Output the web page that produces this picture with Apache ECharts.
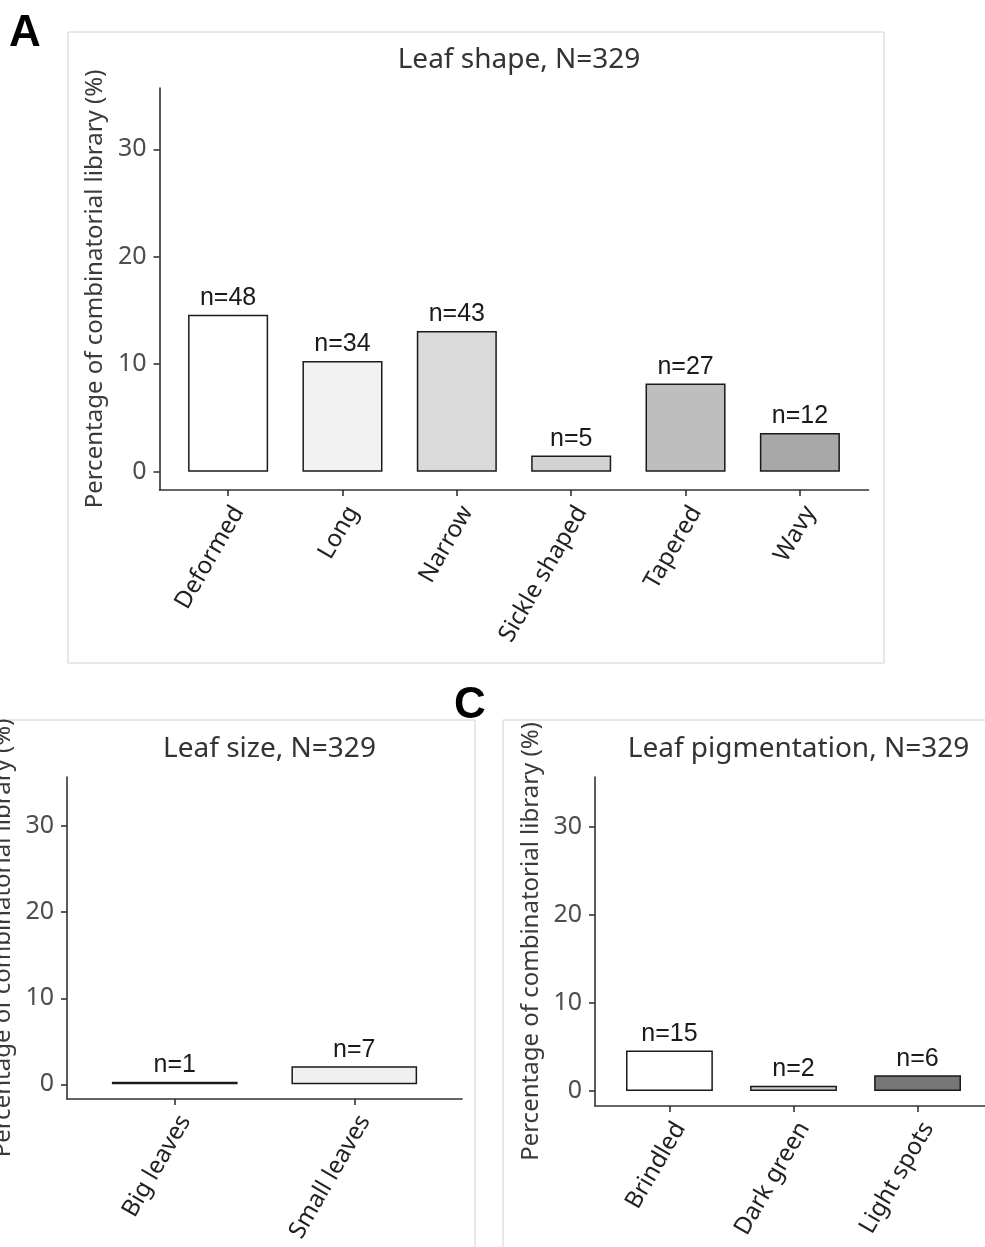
<!DOCTYPE html>
<html>
<head>
<meta charset="utf-8">
<script src="https://cdn.jsdelivr.net/npm/echarts@6/dist/echarts.min.js"></script>
<style>
html,body{margin:0;padding:0;background:#fff;}
#chart{width:985px;height:1247px;}
</style>
</head>
<body>
<div id="chart"></div>
<script>
// ---- data ----
const shapeCategories = ['Deformed', 'Long', 'Narrow', 'Sickle shaped', 'Tapered', 'Wavy'];
const shapeValues = [14.6, 10.3, 13.1, 1.5, 8.2, 3.6];
const shapeCounts = ['n=48', 'n=34', 'n=43', 'n=5', 'n=27', 'n=12'];

const sizeCategories = ['Big leaves', 'Small leaves'];
const sizeValues = [0.3, 2.1];
const sizeCounts = ['n=1', 'n=7'];

const pigCategories = ['Brindled', 'Dark green', 'Light spots'];
const pigValues = [4.6, 0.6, 1.8];
const pigCounts = ['n=15', 'n=2', 'n=6'];

const yTickValues = [0, 10, 20, 30];
const panelTitles = ['Leaf shape, N=329', 'Leaf size, N=329', 'Leaf pigmentation, N=329'];
const yAxisTitle = 'Percentage of combinatorial library (%)';

// ---- styles ----
const shapeColors = ['#ffffff', '#f2f2f2', '#dadada', '#d3d3d3', '#bebebe', '#a8a8a8'];
const sizeColors = ['#ffffff', '#f0f0f0'];
const pigColors = ['#ffffff', '#cccccc', '#777777'];

const panels = [
  {cats: shapeCategories, vals: shapeValues, counts: shapeCounts, colors: shapeColors,
   grid: {left: 159.5, top: 88, width: 709, height: 402}, title: panelTitles[0], titleTop: 41},
  {cats: sizeCategories, vals: sizeValues, counts: sizeCounts, colors: sizeColors,
   grid: {left: 67, top: 777, width: 395, height: 322}, title: panelTitles[1], titleTop: 730},
  {cats: pigCategories, vals: pigValues, counts: pigCounts, colors: pigColors,
   grid: {left: 595, top: 777, width: 397, height: 329}, title: panelTitles[2], titleTop: 730}
];

const FONT = '"Noto Sans", "DejaVu Sans", sans-serif';
const grids = [], xAxes = [], yAxes = [], series = [], titles = [];

panels.forEach((p, i) => {
  const n = p.cats.length;
  grids.push(Object.assign({containLabel: false, outerBoundsMode: 'none'}, p.grid));
  titles.push({
    text: p.title,
    left: p.grid.left + p.grid.width / 2,
    top: p.titleTop,
    textAlign: 'center',
    textStyle: {fontFamily: FONT, fontSize: 28, fontWeight: 'normal', color: '#333'}
  });
  const xTicks = p.cats.map((c, k) => k + 1);
  xAxes.push({
    type: 'value', gridIndex: i, min: 0.4, max: n + 0.6,
    splitLine: {show: false},
    axisLine: {onZero: false, lineStyle: {color: '#333', width: 1.6}},
    axisTick: {show: true, length: 6, customValues: xTicks, lineStyle: {color: '#333', width: 1.6}},
    axisLabel: {
      customValues: xTicks, rotate: 60, margin: 12, verticalAlign: 'top',
      fontFamily: FONT, fontSize: 24, color: '#222',
      formatter: v => p.cats[Math.round(v) - 1] || ''
    }
  });
  yAxes.push({
    type: 'value', gridIndex: i, min: -1.7, max: 35.7,
    splitLine: {show: false},
    name: yAxisTitle, nameLocation: 'middle', nameGap: 52,
    nameTextStyle: {fontFamily: FONT, fontSize: 24, color: '#3a3a3a'},
    axisLine: {show: true, onZero: false, lineStyle: {color: '#333', width: 1.6}},
    axisTick: {show: true, length: 6, customValues: yTickValues, lineStyle: {color: '#333', width: 1.6}},
    axisLabel: {customValues: yTickValues, margin: 13, fontFamily: FONT, fontSize: 25, color: '#4d4d4d'}
  });
  const barW = 0.7 * p.grid.width / (n + 0.2);
  series.push({
    type: 'bar', xAxisIndex: i, yAxisIndex: i, barWidth: barW,
    data: p.vals.map((v, k) => ({
      value: [k + 1, v],
      itemStyle: {color: p.colors[k], borderColor: '#1a1a1a', borderWidth: 1.5}
    })),
    label: {
      show: true, position: 'top', distance: 4,
      fontFamily: '"Liberation Sans", Arial, sans-serif', fontSize: 25, color: '#1a1a1a',
      formatter: params => p.counts[params.dataIndex]
    },
    emphasis: {disabled: true},
    animation: false
  });
});

const chart = echarts.init(document.getElementById('chart'), null, {renderer: 'canvas'});
chart.setOption({
  backgroundColor: '#ffffff',
  animation: false,
  title: titles,
  grid: grids,
  xAxis: xAxes,
  yAxis: yAxes,
  series: series,
  graphic: [
    {type: 'rect', z: -10, shape: {x: 68, y: 32, width: 816, height: 631}, style: {fill: 'none', stroke: '#d0d0d0', lineWidth: 1}},
    {type: 'rect', z: -10, shape: {x: -20, y: 720, width: 495, height: 560}, style: {fill: 'none', stroke: '#d0d0d0', lineWidth: 1}},
    {type: 'rect', z: -10, shape: {x: 503, y: 720, width: 520, height: 560}, style: {fill: 'none', stroke: '#d0d0d0', lineWidth: 1}},
    {type: 'text', left: 9, top: 12, style: {text: 'A', font: 'bold 44px "Liberation Sans", Arial, sans-serif', fill: '#000'}},
    {type: 'text', left: 454, top: 684, style: {text: 'C', font: 'bold 44px "Liberation Sans", Arial, sans-serif', fill: '#000'}}
  ]
});
</script>
</body>
</html>
